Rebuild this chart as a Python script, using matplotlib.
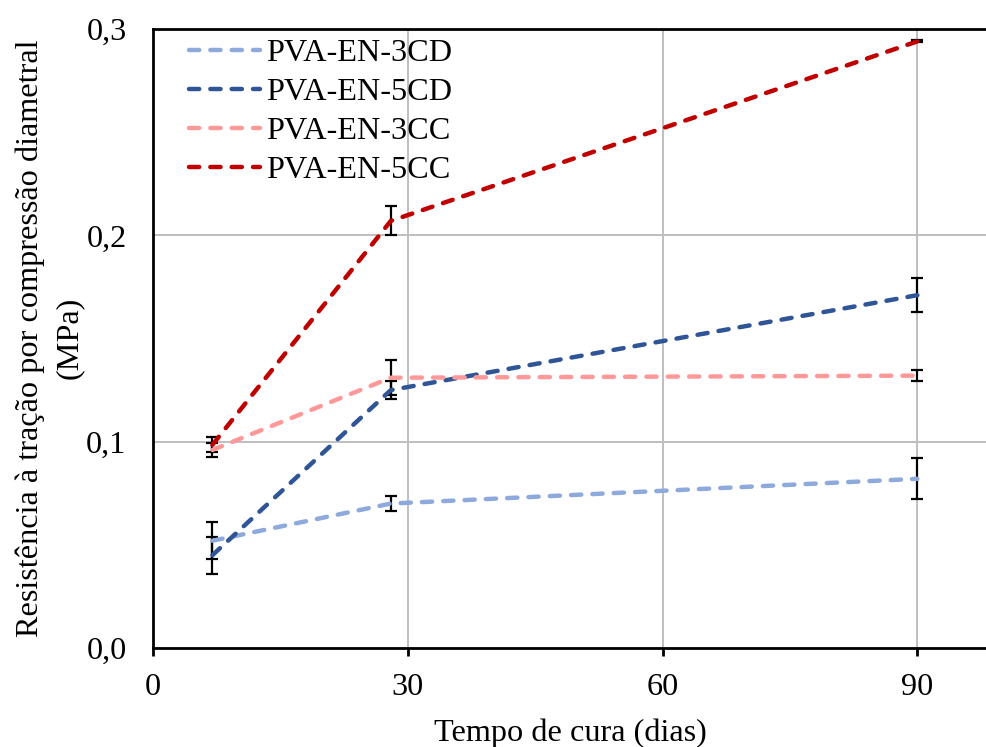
import matplotlib
matplotlib.use("Agg")
import matplotlib.pyplot as plt
from matplotlib.ticker import FuncFormatter

days = [7, 28, 90]
labels = ["PVA-EN-3CD", "PVA-EN-5CD", "PVA-EN-3CC", "PVA-EN-5CC"]
v_3cd = [0.052, 0.070, 0.082]
e_3cd = [0.009, 0.0036, 0.0099]
v_5cd = [0.045, 0.125, 0.171]
e_5cd = [0.009, 0.0045, 0.0082]
v_3cc = [0.096, 0.131, 0.132]
e_3cc = [0.0034, 0.0085, 0.0027]
v_5cc = [0.0985, 0.207, 0.294]
e_5cc = [0.0036, 0.007, 0.0005]
colors = ["#8EA9DB", "#2F5597", "#FF9999", "#C00000"]
x_ticks = [0, 30, 60, 90]
y_ticks = [0.0, 0.1, 0.2, 0.3]

plt.rcParams['font.family'] = ['Liberation Serif', 'DejaVu Serif']
FS = 23.2

fig = plt.figure(figsize=(9.87, 7.47), dpi=100)
ax = fig.add_axes([153/987, 99/747, 834/987, 619/747])

series = [v_3cd, v_5cd, v_3cc, v_5cc]
errs = [e_3cd, e_5cd, e_3cc, e_5cc]
for vals, err, c, lab in zip(series, errs, colors, labels):
    ax.errorbar(days, vals, yerr=err, fmt='none', ecolor='black',
                elinewidth=1.6, capsize=4.5, capthick=1.6, zorder=3)
    ax.plot(days, vals, color=c, lw=3.2, dashes=(2.3, 2.5),
            dash_capstyle='round', label=lab, zorder=4)

ax.set_xlim(0, 98.2)
ax.set_ylim(0, 0.3)
ax.set_xticks(x_ticks)
ax.set_yticks(y_ticks)
ax.yaxis.set_major_formatter(FuncFormatter(lambda v, p: f"{v:.1f}".replace('.', ',')))
ax.grid(True, color='#BFBFBF', lw=1.4, zorder=0)
ax.set_axisbelow(True)
for s in ['left', 'bottom', 'top']:
    ax.spines[s].set_color('black')
    ax.spines[s].set_linewidth(2.0)
ax.spines['right'].set_visible(False)
ax.tick_params(axis='x', direction='out', length=6, width=2, pad=12, labelsize=FS)
ax.tick_params(axis='y', length=0, pad=19, labelsize=FS)

ax.set_xlabel("Tempo de cura (dias)", fontsize=FS, labelpad=12)
fig.text(50/987, 1 - 338/747, "Resistência à tração por compressão diametral\n(MPa)",
         rotation=90, ha='center', va='center', multialignment='center',
         fontsize=FS, linespacing=1.45)

leg = ax.legend(loc='upper left', bbox_to_anchor=(0.035, 0.995), frameon=False,
                fontsize=FS, handlelength=2.2, handletextpad=0.2,
                labelspacing=0.29, borderaxespad=0, borderpad=0.2)

fig.savefig("out.png", dpi=100)
